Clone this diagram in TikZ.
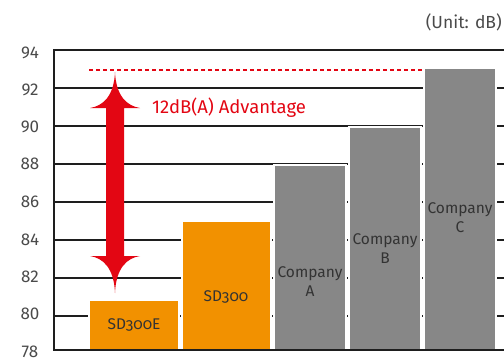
\documentclass[tikz,border=0pt]{standalone}
\usepackage{fontspec}
\setmainfont{Fira Sans}
\newfontfamily\barfont[Numbers=OldStyle]{Fira Sans}
\definecolor{gridc}{HTML}{1E1E1E}
\definecolor{barorange}{HTML}{F29100}
\definecolor{bargray}{HTML}{878787}
\definecolor{advred}{HTML}{E30613}
\definecolor{txtc}{HTML}{4A4A4A}
\definecolor{bartxt}{HTML}{333333}
\begin{document}
\begin{tikzpicture}[x=1pt,y=-1pt,
  gridline/.style={draw=gridc, line width=1.7pt},
  axisline/.style={draw=gridc, line width=2.2pt},
  bar/.style={draw=white, line width=1.2pt, anchor=north west, inner sep=0pt, outer sep=0pt},
  orangebar/.style={bar, fill=barorange},
  graybar/.style={bar, fill=bargray},
  ylabel/.style={text=txtc, font=\fontsize{17}{17}\selectfont, inner sep=0pt},
  barlabel/.style={text=bartxt, font=\barfont\fontsize{15.5}{19}\selectfont, align=center, inner sep=0pt},
  advline/.style={draw=advred, line width=1.6pt, dash pattern=on 4pt off 3pt}]
\useasboundingbox (0,0) rectangle (504,360);
% grid lines
\foreach \yy in {50,88,126,164,202,240,278,316}
  \draw[gridline] (54,\yy) -- (504,\yy);
% axis labels
\foreach \yy/\lab in {53/94,90/92,127/90,164/88,202/86,240/84,277/82,314/80,352/78}
  \node[ylabel] (yl\lab) at (30,\yy) {\lab};
% bars
\node[orangebar, minimum width=90pt, minimum height=50pt] (sd300e) at (89,300) {};
\node[orangebar, minimum width=89pt, minimum height=129pt] (sd300) at (182,221) {};
\node[graybar, minimum width=72pt, minimum height=185pt] (compa) at (274,165) {};
\node[graybar, minimum width=72pt, minimum height=223pt] (compb) at (349,127) {};
\node[graybar, minimum width=72pt, minimum height=282pt] (compc) at (424,68) {};
% bar labels
\node[barlabel] (lsd300e) at (134,325) {SD300E};
\node[barlabel] (lsd300) at (226,297) {SD300};
\node[barlabel] (lcompa) at (310,282) {Company\\A};
\node[barlabel] (lcompb) at (385,249) {Company\\B};
\node[barlabel] (lcompc) at (460,218) {Company\\C};
% axes
\draw[axisline] (54,49) -- (54,351);
\draw[axisline] (53,350) -- (504,350);
% advantage dashed line
\coordinate (dstart) at (89,70);
\draw[advline] (dstart) -- (dstart -| compc.west);
% double arrow
\coordinate (ttip) at (115,72);
\coordinate (btip) at (115,293);
\fill[advred] (ttip) .. controls (114,96) and (103,106) .. (90,108)
  -- (106,108) -- (106,256) -- (90,256)
  .. controls (103,258) and (114,268) .. (btip)
  .. controls (116,268) and (127,258) .. (140,256)
  -- (124,256) -- (124,108) -- (140,108)
  .. controls (127,106) and (116,96) .. (ttip) -- cycle;
\node[text=advred, font=\fontsize{18.5}{18.5}\selectfont, anchor=west, inner sep=0pt] (adv) at (152,108) {12dB(A) Advantage};
% unit
\node[text=txtc, font=\fontsize{17.5}{17.5}\selectfont, anchor=east, inner sep=0pt] (unit) at (502,22) {(Unit: dB)};
\end{tikzpicture}
\end{document}
